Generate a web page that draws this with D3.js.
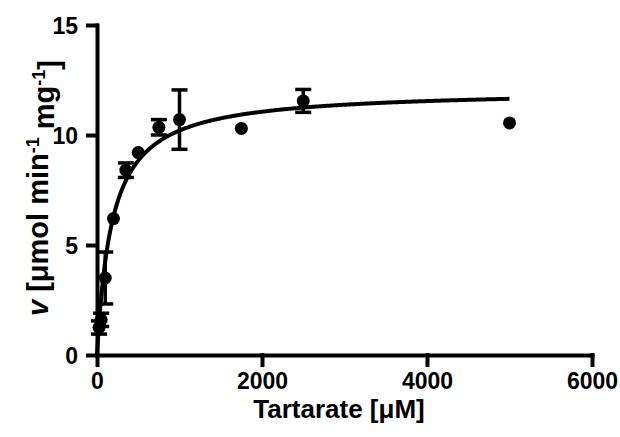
<!DOCTYPE html>
<html>
<head>
<meta charset="utf-8">
<script src="https://cdn.jsdelivr.net/npm/d3@7"></script>
<style>
  html, body { margin: 0; padding: 0; background: #fff; }
  svg { display: block; }
  text { font-family: "Liberation Sans", Arial, sans-serif; font-weight: bold; fill: #000; }
</style>
</head>
<body>
<svg id="chart" width="620" height="437"></svg>
<script>
// Tartarate concentration (µM), mean rate and error (±) for each measurement
const concentration = [25, 50, 100, 200, 350, 500, 750, 1000, 1750, 2500, 5000];
const rate          = [1.25, 1.6, 3.5, 6.2, 8.4, 9.2, 10.35, 10.7, 10.3, 11.55, 10.55];
const rateError     = [0.3, 0.3, 1.18, 0, 0.33, 0, 0.35, 1.35, 0, 0.52, 0];

// Michaelis–Menten fit parameters
const fitVmax = 12.07;
const fitKm = 183;
const fitRange = [0, 5000];

const xTicks = [0, 2000, 4000, 6000];
const yTicks = [0, 5, 10, 15];

const svg = d3.select("#chart");

const x = d3.scaleLinear().domain([0, 6000]).range([97, 592]);
const y = d3.scaleLinear().domain([0, 15]).range([355, 25]);

// axes
const xAxis = svg.append("g")
  .attr("transform", `translate(0,${y(0)})`)
  .call(d3.axisBottom(x).tickValues(xTicks).tickFormat(d3.format("d"))
    .tickSize(10).tickSizeOuter(0).tickPadding(8));

const yAxis = svg.append("g")
  .attr("transform", `translate(${x(0)},0)`)
  .call(d3.axisLeft(y).tickValues(yTicks).tickFormat(d3.format("d"))
    .tickSize(9).tickSizeOuter(0).tickPadding(10));

[xAxis, yAxis].forEach(g => {
  g.selectAll("path.domain, line")
    .attr("stroke", "#000")
    .attr("stroke-width", 4)
    .attr("stroke-linecap", "square");
  g.selectAll("text")
    .style("font-size", "23px")
    .style("font-family", "'Liberation Sans', Arial, sans-serif")
    .style("font-weight", "bold")
    .attr("fill", "#000");
});
yAxis.selectAll("text").attr("dy", "0.36em");

// fitted curve
const curvePoints = d3.range(fitRange[0], fitRange[1] + 1, 10)
  .map(s => [s, fitVmax * s / (fitKm + s)]);
svg.append("path")
  .datum(curvePoints)
  .attr("fill", "none")
  .attr("stroke", "#000")
  .attr("stroke-width", 4)
  .attr("d", d3.line().x(d => x(d[0])).y(d => y(d[1])));

// error bars
const data = concentration.map((c, i) => ({ c, v: rate[i], e: rateError[i] }));
const bars = svg.append("g").selectAll("g")
  .data(data.filter(d => d.e > 0))
  .join("g")
  .attr("stroke", "#000")
  .attr("stroke-width", 3.5);
bars.append("line")
  .attr("x1", d => x(d.c)).attr("x2", d => x(d.c))
  .attr("y1", d => y(d.v - d.e)).attr("y2", d => y(d.v + d.e));
bars.append("line")
  .attr("x1", d => x(d.c) - 8).attr("x2", d => x(d.c) + 8)
  .attr("y1", d => y(d.v + d.e)).attr("y2", d => y(d.v + d.e));
bars.append("line")
  .attr("x1", d => x(d.c) - 8).attr("x2", d => x(d.c) + 8)
  .attr("y1", d => y(d.v - d.e)).attr("y2", d => y(d.v - d.e));

// data points
svg.append("g").selectAll("circle")
  .data(data)
  .join("circle")
  .attr("cx", d => x(d.c))
  .attr("cy", d => y(d.v))
  .attr("r", 6.5)
  .attr("fill", "#000");

// axis titles
svg.append("text")
  .attr("x", 339)
  .attr("y", 418)
  .attr("text-anchor", "middle")
  .style("font-size", "26px")
  .text("Tartarate [μM]");

const yTitle = svg.append("text")
  .attr("transform", "translate(48,188) rotate(-90)")
  .attr("text-anchor", "middle")
  .style("font-size", "29px");
yTitle.append("tspan").style("font-style", "italic").text("v");
yTitle.append("tspan").text(" [μmol min");
yTitle.append("tspan").attr("dy", "-0.5em").style("font-size", "18px").text("-1");
yTitle.append("tspan").attr("dy", "0.5em").text(" mg");
yTitle.append("tspan").attr("dy", "-0.5em").style("font-size", "18px").text("-1");
yTitle.append("tspan").attr("dy", "0.5em").text("]");
</script>
</body>
</html>
